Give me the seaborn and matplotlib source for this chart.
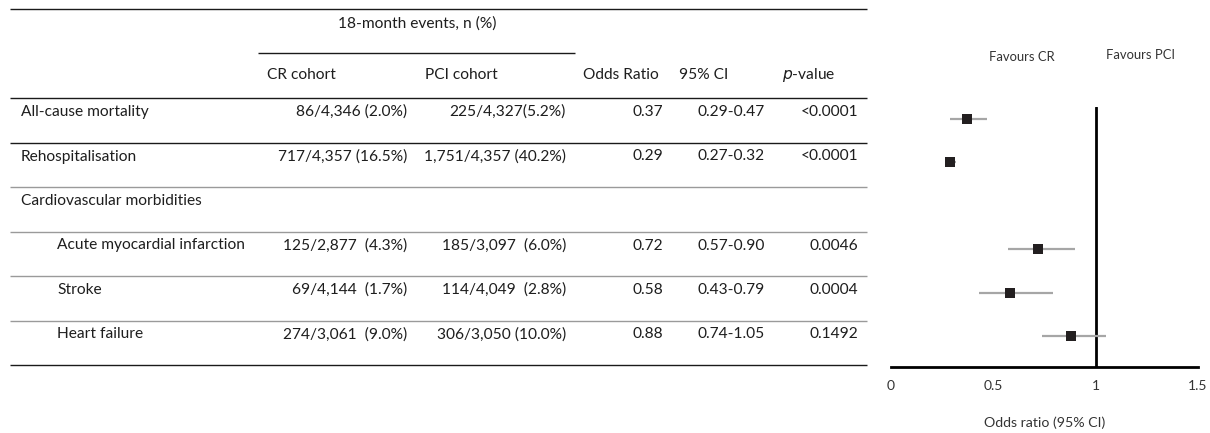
import matplotlib
matplotlib.use("Agg")
import matplotlib.pyplot as plt
import numpy as np
import pandas as pd
import seaborn as sns

# ---- data -----------------------------------------------------------------
outcomes = ["All-cause mortality", "Rehospitalisation", "Cardiovascular morbidities",
            "Acute myocardial infarction", "Stroke", "Heart failure"]
indented = [False, False, False, True, True, True]
cr_events = ["86/4,346 (2.0%)", "717/4,357 (16.5%)", "",
             "125/2,877  (4.3%)", "69/4,144  (1.7%)", "274/3,061  (9.0%)"]
pci_events = ["225/4,327(5.2%)", "1,751/4,357 (40.2%)", "",
              "185/3,097  (6.0%)", "114/4,049  (2.8%)", "306/3,050 (10.0%)"]
odds_ratio = [0.37, 0.29, np.nan, 0.72, 0.58, 0.88]
ci_low = [0.29, 0.27, np.nan, 0.57, 0.43, 0.74]
ci_high = [0.47, 0.32, np.nan, 0.90, 0.79, 1.05]
p_values = ["<0.0001", "<0.0001", "", "0.0046", "0.0004", "0.1492"]
x_ticks = [0, 0.5, 1, 1.5]

# ---- figure ---------------------------------------------------------------
W, H = 1210, 433
sns.set_theme(style="white")
plt.rcParams["font.family"] = ["Lato", "DejaVu Sans"]
fig = plt.figure(figsize=(W / 100, H / 100), dpi=100)

# Table canvas in pixel units (y downward)
tab = fig.add_axes([0, 0, 1, 1])
tab.set_xlim(0, W)
tab.set_ylim(H, 0)
tab.axis("off")

txt = "#1e1e1e"
fs = 11.2
black = "#1a1a1a"
grey = "#9a9a9a"

def hline(y, x0, x1, color, lw=1.0):
    tab.plot([x0, x1], [y, y], color=color, lw=lw, solid_capstyle="butt")

# Header
hline(9, 10, 867, black)
tab.text(417, 24, "18-month events, n (%)", ha="center", va="center", fontsize=fs, color=txt)
hline(53, 258, 575, black)
hy = 75
tab.text(267, hy, "CR cohort", ha="left", va="center", fontsize=fs, color=txt)
tab.text(425, hy, "PCI cohort", ha="left", va="center", fontsize=fs, color=txt)
tab.text(583, hy, "Odds Ratio", ha="left", va="center", fontsize=fs, color=txt)
tab.text(679, hy, "95% CI", ha="left", va="center", fontsize=fs, color=txt)
tab.text(782, hy, "$\\it{p}$-value", ha="left", va="center", fontsize=fs, color=txt)
hline(98, 10, 867, black)

# Body rows
row_top = 98
row_h = 44.5
for i, name in enumerate(outcomes):
    top = row_top + i * row_h
    y = top + 14
    tab.text(57 if indented[i] else 21, y, name, ha="left", va="center", fontsize=fs, color=txt)
    tab.text(407, y, cr_events[i], ha="right", va="center", fontsize=fs, color=txt)
    tab.text(566, y, pci_events[i], ha="right", va="center", fontsize=fs, color=txt)
    if not np.isnan(odds_ratio[i]):
        tab.text(663, y, f"{odds_ratio[i]:.2f}", ha="right", va="center", fontsize=fs, color=txt)
        tab.text(697, y, f"{ci_low[i]:.2f}-{ci_high[i]:.2f}", ha="left", va="center",
                 fontsize=fs, color=txt)
    tab.text(858, y, p_values[i], ha="right", va="center", fontsize=fs, color=txt)
    bottom = top + row_h
    last = i == len(outcomes) - 1
    hline(bottom, 10, 867, black if (i == 0 or last) else grey)

# ---- forest plot ------------------------------------------------------------
fx0, fx1 = 891, 1198
fy0, fy1 = 107, 367
fax = fig.add_axes([fx0 / W, 1 - fy1 / H, (fx1 - fx0) / W, (fy1 - fy0) / H])
fax.patch.set_alpha(0)

step = 43.4
first = 12.0
fax.set_ylim((fy1 - fy0 - first) / step, -first / step)
fax.set_xlim(x_ticks[0], x_ticks[-1])

df = pd.DataFrame({"row": np.arange(len(outcomes)), "or": odds_ratio,
                   "lo": ci_low, "hi": ci_high}).dropna()

fax.hlines(df["row"], df["lo"], df["hi"], color="#a6a6a6", lw=1.6, zorder=2)
sns.scatterplot(data=df, x="or", y="row", marker="s", s=55, color="#231f20",
                edgecolor="#231f20", linewidth=0, ax=fax, zorder=3, legend=False)
fax.axvline(1, color="black", lw=2, zorder=1)

for side in ["top", "right", "left"]:
    fax.spines[side].set_visible(False)
fax.spines["bottom"].set_linewidth(2.0)
fax.spines["bottom"].set_color("black")
fax.set_yticks([])
fax.set_xticks(x_ticks)
fax.set_xticklabels(["0", "0.5", "1", "1.5"])
fax.tick_params(axis="x", length=0, pad=9, labelsize=10, labelcolor="#333333")
fax.set_xlabel("Odds ratio (95% CI)", fontsize=10.2, color="#333333", labelpad=18)
fax.set_ylabel("")
fax.grid(False)

tab.text(1022, 57, "Favours CR", ha="center", va="center", fontsize=9.4, color="#333333")
tab.text(1140, 55, "Favours PCI", ha="center", va="center", fontsize=9.4, color="#333333")

fig.savefig("out.png", dpi=100)
